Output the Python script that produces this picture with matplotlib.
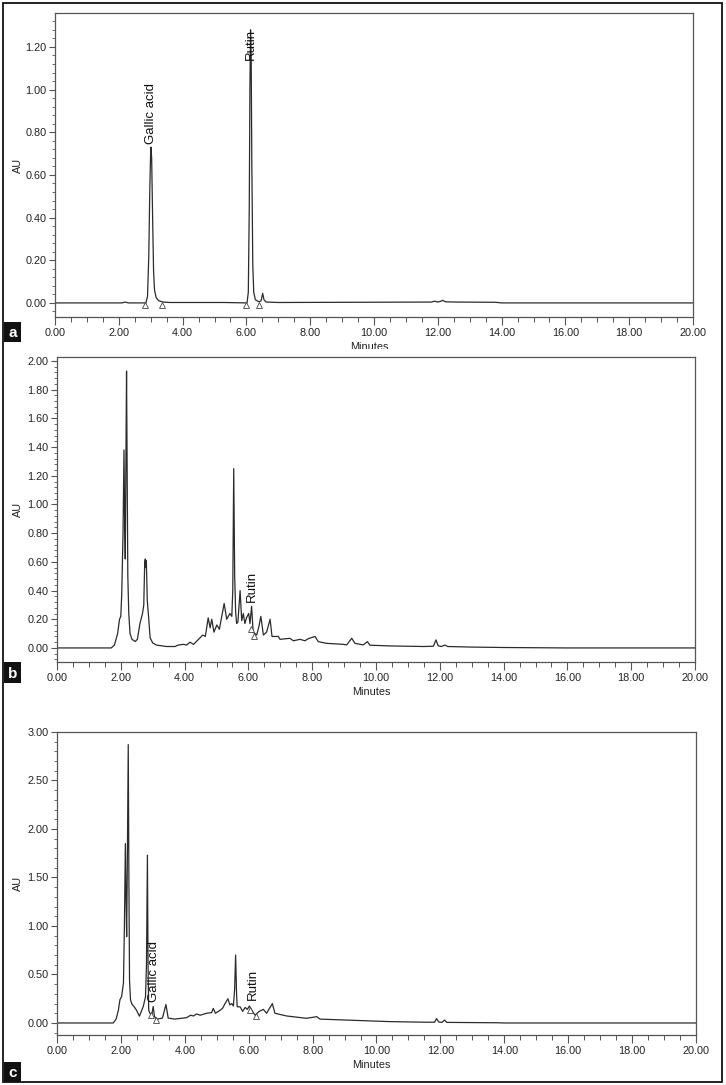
import matplotlib
matplotlib.use("Agg")
import matplotlib.pyplot as plt
from matplotlib.patches import Rectangle
from matplotlib.ticker import MultipleLocator, FormatStrFormatter

# ---------------- data ----------------
# Panel a: standard mix
a_time = [0.00, 2.10, 2.20, 2.30, 2.85, 2.90, 2.94, 2.97, 3.00, 3.01, 3.03, 3.06, 3.09, 3.12,
          3.17, 3.25, 3.40, 3.60, 5.30, 6.02, 6.06, 6.09, 6.11, 6.13, 6.15, 6.17, 6.20, 6.23,
          6.28, 6.40, 6.46, 6.51, 6.55, 6.62, 7.00, 11.80, 11.90, 12.00, 12.10, 12.15, 12.25,
          12.60, 13.80, 14.00, 20.00]
a_au = [0.000, 0.000, 0.004, 0.000, 0.000, 0.030, 0.220, 0.520, 0.720, 0.730, 0.680, 0.400,
        0.150, 0.060, 0.025, 0.010, 0.004, 0.002, 0.002, 0.000, 0.050, 0.450, 1.000, 1.280,
        1.150, 0.650, 0.180, 0.050, 0.015, 0.005, 0.010, 0.045, 0.015, 0.004, 0.002, 0.004,
        0.008, 0.004, 0.008, 0.012, 0.005, 0.004, 0.003, 0.000, 0.000]
a_marks_t = [2.82, 3.34, 5.98, 6.40]
a_marks_au = [-0.008, -0.008, -0.008, -0.008]
a_labels = ["Gallic acid", "Rutin"]
a_label_t = [3.01, 6.13]
a_label_au = [0.745, 1.14]

# Panel b: extract
b_time = [0.00, 1.70, 1.80, 1.90, 1.96, 2.00, 2.03, 2.07, 2.10, 2.12, 2.14, 2.16, 2.18, 2.20,
          2.22, 2.25, 2.29, 2.35, 2.45, 2.52, 2.60, 2.68, 2.72, 2.75, 2.77, 2.78, 2.80, 2.83,
          2.87, 2.92, 3.00, 3.12, 3.43, 3.70, 3.80, 3.96, 4.06, 4.17, 4.28, 4.48, 4.57, 4.65,
          4.74, 4.80, 4.85, 4.92, 5.01, 5.09, 5.24, 5.32, 5.42, 5.48, 5.51, 5.54, 5.57, 5.60,
          5.63, 5.67, 5.74, 5.79, 5.84, 5.89, 5.94, 6.01, 6.05, 6.10, 6.15, 6.26, 6.33, 6.39,
          6.47, 6.57, 6.68, 6.74, 6.94, 6.99, 7.30, 7.41, 7.62, 7.77, 7.88, 8.09, 8.19, 8.45,
          8.98, 9.08, 9.24, 9.34, 9.60, 9.73, 9.81, 10.44, 11.50, 11.80, 11.88, 11.95, 12.05,
          12.16, 12.25, 13.00, 14.00, 16.00, 20.00]
b_au = [0.000, 0.000, 0.020, 0.100, 0.200, 0.220, 0.380, 0.800, 1.380, 0.900, 0.620, 1.300,
        1.930, 1.200, 0.500, 0.240, 0.100, 0.060, 0.045, 0.060, 0.170, 0.240, 0.300, 0.600,
        0.620, 0.560, 0.610, 0.330, 0.220, 0.070, 0.035, 0.020, 0.010, 0.010, 0.020, 0.025,
        0.020, 0.040, 0.025, 0.070, 0.090, 0.080, 0.210, 0.140, 0.200, 0.110, 0.160, 0.130,
        0.310, 0.200, 0.240, 0.220, 0.400, 1.250, 0.500, 0.250, 0.170, 0.180, 0.400, 0.190,
        0.240, 0.170, 0.210, 0.240, 0.170, 0.290, 0.110, 0.090, 0.150, 0.220, 0.090, 0.110,
        0.200, 0.080, 0.080, 0.060, 0.067, 0.050, 0.060, 0.050, 0.065, 0.080, 0.044, 0.032,
        0.025, 0.021, 0.067, 0.032, 0.021, 0.044, 0.019, 0.014, 0.010, 0.012, 0.056, 0.015,
        0.010, 0.020, 0.010, 0.006, 0.003, 0.000, 0.000]
b_marks_t = [6.07, 6.18]
b_marks_au = [0.13, 0.08]
b_labels = ["Rutin"]
b_label_t = [6.10]
b_label_au = [0.32]

# Panel c: extract
c_time = [0.00, 1.76, 1.85, 1.92, 1.97, 2.02, 2.08, 2.11, 2.14, 2.16, 2.18, 2.20, 2.23, 2.25,
          2.27, 2.30, 2.35, 2.41, 2.49, 2.58, 2.70, 2.77, 2.80, 2.83, 2.85, 2.87, 2.91, 2.96,
          3.01, 3.05, 3.14, 3.30, 3.41, 3.48, 3.69, 4.06, 4.18, 4.27, 4.37, 4.48, 4.68, 4.84,
          4.89, 4.96, 5.10, 5.18, 5.26, 5.35, 5.41, 5.47, 5.52, 5.56, 5.59, 5.62, 5.64, 5.73,
          5.81, 5.89, 5.96, 6.02, 6.12, 6.20, 6.33, 6.46, 6.56, 6.74, 6.82, 7.19, 7.81, 8.13,
          8.23, 8.96, 10.42, 11.50, 11.82, 11.88, 11.95, 12.05, 12.13, 12.20, 13.80, 14.00, 20.00]
c_au = [0.000, 0.000, 0.040, 0.130, 0.240, 0.270, 0.410, 1.000, 1.850, 1.300, 0.890, 1.600,
        2.870, 1.500, 0.440, 0.240, 0.190, 0.170, 0.130, 0.070, 0.170, 0.270, 0.600, 1.730,
        0.600, 0.130, 0.100, 0.070, 0.170, 0.065, 0.040, 0.050, 0.190, 0.050, 0.040, 0.055,
        0.080, 0.072, 0.093, 0.080, 0.100, 0.107, 0.150, 0.100, 0.130, 0.150, 0.200, 0.250,
        0.186, 0.200, 0.175, 0.350, 0.700, 0.300, 0.167, 0.167, 0.120, 0.160, 0.140, 0.175,
        0.120, 0.080, 0.120, 0.140, 0.100, 0.200, 0.100, 0.072, 0.048, 0.065, 0.040, 0.031,
        0.014, 0.008, 0.008, 0.045, 0.010, 0.006, 0.030, 0.006, 0.002, 0.000, 0.000]
c_marks_t = [2.93, 3.10, 6.05, 6.22]
c_marks_au = [0.08, 0.03, 0.13, 0.07]
c_labels = ["Gallic acid", "Rutin"]
c_label_t = [3.04, 6.14]
c_label_au = [0.22, 0.24]

x_ticks = [0, 2, 4, 6, 8, 10, 12, 14, 16, 18, 20]
a_yticks = [0.0, 0.2, 0.4, 0.6, 0.8, 1.0, 1.2]
b_yticks = [0.0, 0.2, 0.4, 0.6, 0.8, 1.0, 1.2, 1.4, 1.6, 1.8, 2.0]
c_yticks = [0.0, 0.5, 1.0, 1.5, 2.0, 2.5, 3.0]
panel_letters = ["a", "b", "c"]

# ---------------- figure ----------------
W, H = 726, 1085
plt.rcParams['font.family'] = ['Liberation Sans', 'DejaVu Sans']
fig = plt.figure(figsize=(W / 100, H / 100), dpi=100)


def px_rect(x0, y0, x1, y1):
    return [x0 / W, 1 - y1 / H, (x1 - x0) / W, (y1 - y0) / H]


LINE = "#2b2b2b"
SPINE = "#555555"
TXT = "#222222"
TICK_FS = 7.8
TITLE_FS = 7.8

panels = [
    dict(rect=(55, 13, 693, 317), ylim=(-0.066, 1.359), yticks=a_yticks, yminor=0.04,
         t=a_time, au=a_au, mt=a_marks_t, mau=a_marks_au,
         labels=a_labels, lt=a_label_t, lau=a_label_au),
    dict(rect=(57, 357, 695, 662), ylim=(-0.098, 2.028), yticks=b_yticks, yminor=0.04,
         t=b_time, au=b_au, mt=b_marks_t, mau=b_marks_au,
         labels=b_labels, lt=b_label_t, lau=b_label_au),
    dict(rect=(57, 732, 696, 1035), ylim=(-0.124, 3.0), yticks=c_yticks, yminor=0.1,
         t=c_time, au=c_au, mt=c_marks_t, mau=c_marks_au,
         labels=c_labels, lt=c_label_t, lau=c_label_au),
]

for i, p in enumerate(panels):
    x0, y0, x1, y1 = p["rect"]
    ax = fig.add_axes(px_rect(x0, y0, x1, y1))
    ax.plot(p["t"], p["au"], color=LINE, lw=0.9, solid_joinstyle="round")
    ax.plot(p["mt"], p["mau"], linestyle="none", marker="^", ms=4, mfc="white",
            mec="#444444", mew=0.6)
    for lab, lt, lau in zip(p["labels"], p["lt"], p["lau"]):
        ax.text(lt, lau, lab, rotation=90, ha="center", va="bottom", fontsize=9.5,
                color="#111111")
    ax.set_xlim(0, 20)
    ax.set_ylim(*p["ylim"])
    ax.set_xticks(x_ticks)
    ax.xaxis.set_major_formatter(FormatStrFormatter("%.2f"))
    ax.xaxis.set_minor_locator(MultipleLocator(0.5))
    ax.set_yticks(p["yticks"])
    ax.yaxis.set_major_formatter(FormatStrFormatter("%.2f"))
    ax.yaxis.set_minor_locator(MultipleLocator(p["yminor"]))
    ax.tick_params(axis="both", which="major", labelsize=TICK_FS, colors=SPINE,
                   labelcolor=TXT, width=0.8, pad=2)
    ax.tick_params(axis="x", which="major", length=6)
    ax.tick_params(axis="y", which="major", length=4)
    ax.tick_params(axis="x", which="minor", length=3.5, width=0.7, colors=SPINE)
    ax.tick_params(axis="y", which="minor", length=2.5, width=0.6, colors=SPINE)
    for s in ax.spines.values():
        s.set_color(SPINE)
        s.set_linewidth(0.9)
    # axis titles
    fig.text(18 / W, 1 - ((y0 + y1) / 2) / H, "AU", rotation=90, ha="center", va="center",
             fontsize=TITLE_FS, color=TXT)
    fig.text(((x0 + x1) / 2 - 5) / W, 1 - (y1 + 30) / H, "Minutes", ha="center",
             va="center", fontsize=TITLE_FS, color=TXT)

# panel "Minutes" of a is cut off by the panel b area in the reference
fig.patches.append(Rectangle((250 / W, 1 - 356 / H), 250 / W, 7 / H, transform=fig.transFigure,
                             facecolor="white", edgecolor="none", zorder=10))

# panel letters
letter_boxes = [(4, 322, 21, 342), (4, 662, 21, 683), (4, 1062, 21, 1082)]
for letter, (bx0, by0, bx1, by1) in zip(panel_letters, letter_boxes):
    fig.patches.append(Rectangle((bx0 / W, 1 - by1 / H), (bx1 - bx0) / W, (by1 - by0) / H,
                                 transform=fig.transFigure, facecolor="#111111",
                                 edgecolor="none", zorder=11))
    fig.text((bx0 + bx1) / 2 / W, 1 - ((by0 + by1) / 2 + 1) / H, letter, ha="center",
             va="center", fontsize=11, fontweight="bold", color="white", zorder=12)

# outer frame
fig.patches.append(Rectangle((3 / W, 1 - 1082 / H), 719 / W, 1079 / H, transform=fig.transFigure,
                             facecolor="none", edgecolor="#111111", lw=1.3, zorder=9))

fig.savefig("out.png", dpi=100)
